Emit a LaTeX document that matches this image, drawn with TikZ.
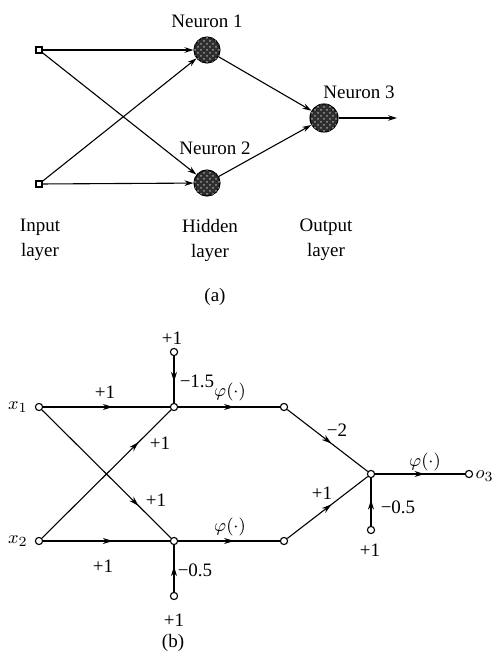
\documentclass[tikz,border=0pt]{standalone}
\usepackage{fontspec}
\setmainfont{Liberation Serif}
\usetikzlibrary{arrows.meta,decorations.markings,patterns}
\tikzset{
  neuron/.style={circle,draw,fill=black!82,inner sep=0pt,minimum size=13pt,
    postaction={pattern=crosshatch dots,pattern color=black!40}},
  inbox/.style={rectangle,draw,fill=white,inner sep=0pt,minimum size=3pt},
  sig/.style={circle,draw,fill=white,inner sep=0pt,minimum size=3.6pt},
  tip/.style={-{Stealth[length=4.5pt,width=2.8pt]}},
  midtip/.style={postaction={decorate},decoration={markings,
    mark=at position #1 with {\arrow{Stealth[length=5pt,width=3pt]}}}}
}
\begin{document}
\begin{tikzpicture}[x=0.5pt,y=-0.5pt,line width=0.55pt,font=\fontsize{9.5}{12.5}\selectfont]
\useasboundingbox (0,0) rectangle (494,653);
% (a) network
\node[inbox] (i1) at (39,50) {};
\node[inbox] (i2) at (39,184) {};
\node[neuron] (n1) at (207,50) {};
\node[neuron] (n2) at (207,183) {};
\node[neuron,minimum size=14pt] (n3) at (324,118) {};
\coordinate (out) at (397,118);
\node (t1) at (207,21) {Neuron 1};
\node (t2) at (215,148) {Neuron 2};
\node (t3) at (359,92) {Neuron 3};

\draw[tip] (i1) -- (n1);
\draw[tip] (i1) -- (n2);
\draw[tip] (i2) -- (n1);
\draw[tip] (i2) -- (n2);
\draw[tip] (n1) -- (n3);
\draw[tip] (n2) -- (n3);
\draw[tip] (n3) -- (out);

\node[align=center] (l1) at (40,240) {Input\\layer};
\node[align=center] (l2) at (210,240) {Hidden\\layer};
\node[align=center] (l3) at (326,240) {Output\\layer};
\node (ca) at (215,297) {(a)};

% (b) signal-flow graph
\node[sig] (x1) at (39,407) {};
\node[sig] (x2) at (39,541) {};
\node[left] (x1l) at (x1.west) {$x_1$};
\node[left] (x2l) at (x2.west) {$x_2$};
\node[sig] (s1) at (174,407) {};
\node[sig] (s2) at (174,541) {};
\node[sig] (b1) at (174,352) {};
\node[sig] (b2) at (174,596) {};
\node[sig] (h1) at (284,407) {};
\node[sig] (h2) at (284,541) {};
\node[sig] (s3) at (371,474) {};
\node[sig] (b3) at (371,530) {};
\node[sig] (o) at (469,474) {};
\node[anchor=west,inner sep=0.5pt] (ol) at (474,476) {$o_3$};

\draw[midtip=0.55] (x1) -- (s1);
\draw[midtip=0.75] (x2) -- (s1);
\draw[midtip=0.75] (x1) -- (s2);
\draw[midtip=0.55] (x2) -- (s2);
\draw[midtip=0.55] (b1) -- (s1);
\draw[midtip=0.55] (b2) -- (s2);
\draw[midtip=0.55] (s1) -- (h1);
\draw[midtip=0.55] (s2) -- (h2);
\draw[midtip=0.55] (h1) -- (s3);
\draw[midtip=0.55] (h2) -- (s3);
\draw[midtip=0.55] (b3) -- (s3);
\draw[midtip=0.55] (s3) -- (o);

\node (w1) at (105,392) {+1};
\node (w2) at (160,443) {+1};
\node (w3) at (156,500) {+1};
\node (w4) at (103,566) {+1};
\node (c1) at (172,338) {+1};
\node (c2) at (174,620) {+1};
\node (c3) at (370,550) {+1};
\node (d1) at (197,381) {−1.5};
\node (d2) at (195,570) {−0.5};
\node (d3) at (398,507) {−0.5};
\node (w5) at (337,430) {−2};
\node (w6) at (322,493) {+1};
\node (p1) at (230,392) {$\varphi(\cdot)$};
\node (p2) at (230,527) {$\varphi(\cdot)$};
\node (p3) at (425,462) {$\varphi(\cdot)$};
\node (cb) at (173,643) {(b)};
\end{tikzpicture}
\end{document}
